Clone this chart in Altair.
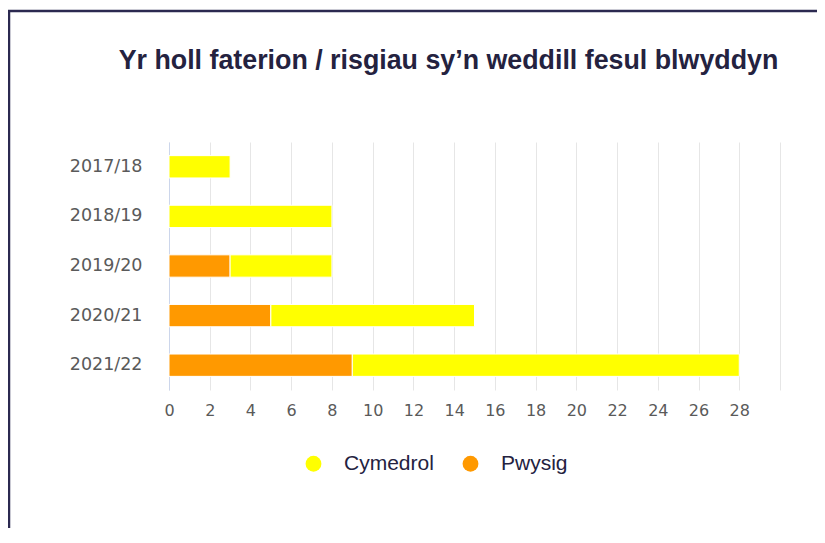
import altair as alt
import pandas as pd

# ---- data ----
years = ["2017/18", "2018/19", "2019/20", "2020/21", "2021/22"]
cymedrol = [3, 8, 5, 10, 19]
pwysig = [0, 0, 3, 5, 9]
series = ["Cymedrol", "Pwysig"]
colors = ["#FFFF00", "#FF9900"]
x_ticks = list(range(0, 31, 2))
title_text = "Yr holl faterion / risgiau sy’n weddill fesul blwyddyn"

rows = []
for yr, c, p in zip(years, cymedrol, pwysig):
    rows.append({"year": yr, "series": "Pwysig", "value": p, "order": 0})
    rows.append({"year": yr, "series": "Cymedrol", "value": c, "order": 1})
df = pd.DataFrame(rows)

label_grey = "#5a5a5a"
navy = "#24223f"

bars = (
    alt.Chart(df)
    .transform_filter("datum.value > 0")
    .mark_bar(stroke="white", strokeWidth=1)
    .encode(
        y=alt.Y(
            "year:N",
            sort=years,
            title=None,
            scale=alt.Scale(paddingInner=0.55, paddingOuter=0.275),
            axis=alt.Axis(
                labelFont="DejaVu Sans",
                labelFontSize=17.5,
                labelColor=label_grey,
                labelPadding=27,
                ticks=False,
                domain=True,
                domainColor="#ccd6eb",
                domainWidth=1,
                grid=False,
            ),
        ),
        x=alt.X(
            "value:Q",
            stack="zero",
            title=None,
            scale=alt.Scale(domain=[0, 30], nice=False),
            axis=alt.Axis(
                values=x_ticks,
                labelExpr="datum.value >= 30 ? '' : datum.label",
                labelFont="DejaVu Sans",
                labelFontSize=16,
                labelColor=label_grey,
                labelPadding=12,
                labelFlush=False,
                labelOverlap=False,
                ticks=False,
                domain=False,
                grid=True,
                gridColor="#e6e6e6",
                gridWidth=1,
            ),
        ),
        color=alt.Color(
            "series:N",
            scale=alt.Scale(domain=series, range=colors),
            legend=alt.Legend(
                orient="none",
                legendX=134,
                legendY=311,
                direction="horizontal",
                title=None,
                symbolType="circle",
                symbolSize=250,
                symbolStrokeWidth=0,
                symbolOpacity=1,
                labelFont="Liberation Sans",
                labelFontSize=21,
                labelColor=navy,
                labelOffset=20,
                columnPadding=26,
                padding=0,
            ),
        ),
        order=alt.Order("order:Q"),
    )
)

frame = alt.Data(values=[{"k": 1}])
left_border = alt.Chart(frame).mark_rule(color="#2b2950", strokeWidth=2.5).encode(
    x=alt.value(-160), y=alt.value(-131), y2=alt.value(400)
)
top_border = alt.Chart(frame).mark_rule(color="#2b2950", strokeWidth=2.5).encode(
    x=alt.value(-161), x2=alt.value(660), y=alt.value(-131)
)

chart = (
    alt.layer(bars, left_border, top_border)
    .properties(
        width=611,
        height=248,
        background="white",
        autosize=alt.AutoSizeParams(type="none"),
        padding={"left": 161, "top": 134, "right": 37, "bottom": 138},
        title=alt.TitleParams(
            text=title_text,
            font="Liberation Sans",
            fontSize=26.8,
            fontWeight="bold",
            color=navy,
            anchor="middle",
            frame="group",
            dx=-26,
            offset=-86,
            baseline="alphabetic",
        ),
    )
    .configure_view(strokeWidth=0, stroke="transparent")
)

chart.save("out.html", embed_options={"renderer": "svg", "actions": False})
